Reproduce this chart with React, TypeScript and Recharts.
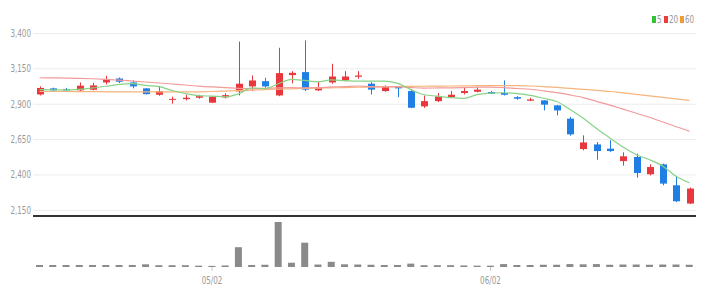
import { ComposedChart, BarChart, Bar, Line, XAxis, YAxis, CartesianGrid, Legend, ReferenceLine } from 'recharts'

// trading days, 04/14 .. 06/23
const dates = [
  '04/14', '04/15', '04/16', '04/17', '04/18', '04/21', '04/22', '04/23', '04/24', '04/25',
  '04/28', '04/29', '04/30', '05/02', '05/05', '05/06', '05/07', '05/08', '05/09', '05/12',
  '05/13', '05/14', '05/15', '05/16', '05/19', '05/20', '05/21', '05/22', '05/23', '05/26',
  '05/27', '05/28', '05/29', '05/30', '06/02', '06/03', '06/04', '06/05', '06/06', '06/09',
  '06/10', '06/11', '06/12', '06/13', '06/16', '06/17', '06/18', '06/19', '06/20', '06/23',
]

const opens = [
  2969, 3012, 3005, 2998, 3002, 3054, 3082, 3054, 3012, 2967,
  2934, 2936, 2946, 2911, 2948, 2990, 3026, 3063, 2962, 3106,
  3127, 2998, 3054, 3068, 3094, 3045, 2993, 3026, 2993, 2885,
  2922, 2950, 2979, 2988, 2986, 2979, 2950, 2925, 2927, 2892,
  2798, 2583, 2616, 2586, 2498, 2527, 2405, 2475, 2327, 2198,
]
const highs = [
  3026, 3017, 3015, 3054, 3050, 3101, 3089, 3068, 3015, 3026,
  2953, 2967, 2967, 2955, 2977, 3343, 3103, 3087, 3299, 3134,
  3351, 3063, 3186, 3134, 3134, 3056, 3033, 3028, 3005, 2962,
  2979, 2993, 3021, 3021, 2993, 3068, 2957, 2946, 2929, 2895,
  2810, 2680, 2633, 2645, 2560, 2551, 2475, 2480, 2390, 2311,
]
const lows = [
  2962, 2995, 2990, 2993, 2998, 3040, 3050, 3012, 2969, 2960,
  2904, 2927, 2939, 2908, 2941, 2962, 2993, 3017, 2957, 3047,
  2993, 2993, 3045, 3061, 3080, 2969, 2988, 2950, 2872, 2874,
  2915, 2946, 2969, 2984, 2972, 2962, 2932, 2922, 2856, 2821,
  2677, 2574, 2508, 2562, 2466, 2381, 2397, 2327, 2209, 2195,
]
const closes = [
  3015, 2998, 3000, 3031, 3033, 3075, 3059, 3026, 2971, 2993,
  2938, 2946, 2957, 2953, 2964, 3045, 3068, 3026, 3120, 3122,
  3003, 3017, 3096, 3096, 3103, 3003, 3021, 3012, 2875, 2922,
  2955, 2967, 2993, 3003, 2974, 2967, 2939, 2934, 2897, 2856,
  2687, 2630, 2569, 2569, 2532, 2414, 2456, 2339, 2214, 2304,
]
const volumes = [
  45, 45, 45, 45, 45, 45, 45, 45, 60, 40,
  40, 40, 30, 25, 35, 440, 45, 50, 1000, 95,
  540, 55, 115, 60, 55, 50, 45, 45, 75, 40,
  40, 40, 35, 30, 30, 65, 45, 45, 50, 50,
  65, 60, 65, 50, 55, 55, 50, 55, 55, 50,
]

// moving averages as drawn
const ma5 = [
  3003, 3002, 3000, 3005, 3015, 3027, 3040, 3045, 3033, 3025,
  2997, 2975, 2961, 2957, 2952, 2973, 3015, 3011, 3045, 3076,
  3068, 3058, 3072, 3067, 3063, 3063, 3064, 3047, 3003, 2967,
  2957, 2946, 2942, 2968, 2978, 2981, 2975, 2963, 2942, 2919,
  2863, 2801, 2728, 2662, 2597, 2543, 2508, 2462, 2391, 2345,
]
const ma20 = [
  3087, 3086, 3085, 3083, 3080, 3076, 3071, 3064, 3057, 3050,
  3043, 3036, 3028, 3022, 3017, 3012, 3010, 3012, 3015, 3017,
  3016, 3017, 3022, 3025, 3029, 3025, 3023, 3023, 3018, 3014,
  3015, 3016, 3018, 3021, 3021, 3017, 3011, 3006, 2995, 2982,
  2966, 2947, 2920, 2894, 2865, 2836, 2808, 2774, 2741, 2710,
]
const ma60 = [
  2990, 2990, 2990, 2989, 2989, 2988, 2988, 2988, 2987, 2987,
  2987, 2987, 2988, 2990, 2993, 2996, 3000, 3003, 3006, 3009,
  3012, 3014, 3016, 3018, 3020, 3022, 3024, 3025, 3026, 3027,
  3028, 3029, 3030, 3031, 3032, 3032, 3031, 3029, 3025, 3019,
  3012, 3005, 2998, 2990, 2980, 2970, 2959, 2949, 2938, 2927,
]

const priceTicks = [2150, 2400, 2650, 2900, 3150, 3400]
const priceDomain = [2110, 3460]
const dateTicks = ['05/02', '06/02']

const RED = '#e8383d'
const BLUE = '#1f7fe5'
const legendItems = [
  { label: '5', color: '#34c234' },
  { label: '20', color: '#ee3b3b' },
  { label: '60', color: '#f29a38' },
]

const FONT = "'DejaVu Sans', sans-serif"

const data = dates.map((date, i) => ({
  date,
  open: opens[i],
  high: highs[i],
  low: lows[i],
  close: closes[i],
  volume: volumes[i],
  ma5: ma5[i],
  ma20: ma20[i],
  ma60: ma60[i],
}))

const Candle = (props: any) => {
  const { x, y, width, height, payload } = props
  const { open, close, high, low } = payload
  const color = close >= open ? RED : BLUE
  const cx = Math.round(x + width / 2) + 0.5
  const ratio = high === low ? 0 : height / (high - low)
  const top = y + (high - Math.max(open, close)) * ratio
  const bodyH = Math.max(1, Math.abs(close - open) * ratio)
  return (
    <g>
      <line x1={cx} x2={cx} y1={y} y2={y + height} stroke={color} strokeWidth={1} />
      <rect x={cx - 3.5} y={top} width={7} height={bodyH} fill={color} />
    </g>
  )
}

// narrow gray labels like the original
const PriceTick = (props: any) => {
  const { x, y, payload } = props
  return (
    <g transform={`translate(${x},${y})`}>
      <text transform="scale(0.72,1)" textAnchor="end" dy="0.35em" fill="#999" fontSize={10} fontFamily={FONT}>
        {Number(payload.value).toLocaleString('en-US')}
      </text>
    </g>
  )
}

const DateTick = (props: any) => {
  const { x, y, payload } = props
  return (
    <g transform={`translate(${x},${y})`}>
      <text transform="scale(0.72,1)" textAnchor="middle" dy="0.71em" fill="#999" fontSize={10} fontFamily={FONT}>
        {payload.value}
      </text>
    </g>
  )
}

const MaLegend = () => (
  <div style={{ display: 'flex', alignItems: 'center', gap: 2, fontFamily: FONT, fontSize: 10, color: '#999' }}>
    {legendItems.map((it) => (
      <span key={it.label} style={{ display: 'flex', alignItems: 'center', gap: 1 }}>
        <span style={{ width: 4, height: 7, background: it.color, display: 'inline-block' }} />
        <span style={{ display: 'inline-block', transform: 'scaleX(0.72)', transformOrigin: 'left center', width: it.label.length * 4.8 }}>
          {it.label}
        </span>
      </span>
    ))}
  </div>
)

export default function App() {
  return (
    <div style={{ position: 'absolute', left: 0, top: 0, width: 709, height: 300, background: '#fff' }}>
      <div style={{ position: 'absolute', left: 0, top: 0 }}>
        <ComposedChart width={709} height={218} data={data} margin={{ top: 25, right: 13, bottom: 2, left: 0 }}>
          <CartesianGrid stroke="#ececec" syncWithTicks />
          <XAxis
            dataKey="date"
            ticks={dateTicks}
            interval={0}
            tick={false}
            tickLine={false}
            height={0}
            axisLine={false}
          />
          <YAxis
            type="number"
            domain={priceDomain}
            ticks={priceTicks}
            interval={0}
            width={33}
            tickSize={0}
            tickMargin={2}
            axisLine={false}
            tickLine={false}
            tick={<PriceTick />}
          />
          <Legend
            verticalAlign="middle"
            align="center"
            layout="horizontal"
            wrapperStyle={{ top: 14, right: 14, left: 'auto', width: 'auto' }}
            content={() => <MaLegend />}
          />
          <Line type="monotone" dataKey="ma60" stroke="#f5b57c" strokeWidth={1.2} dot={false} isAnimationActive={false} />
          <Line type="monotone" dataKey="ma20" stroke="#f39a9a" strokeWidth={1.2} dot={false} isAnimationActive={false} />
          <Line type="monotone" dataKey="ma5" stroke="#86d386" strokeWidth={1.2} dot={false} isAnimationActive={false} />
          <Bar dataKey={(d: any) => [d.low, d.high]} shape={Candle} isAnimationActive={false} />
          {/* dark divider between price and volume panels */}
          <ReferenceLine y={priceDomain[0]} stroke="#333" strokeWidth={2} />
        </ComposedChart>
      </div>
      <div style={{ position: 'absolute', left: 0, top: 217 }}>
        <BarChart width={709} height={83} data={data} margin={{ top: 5, right: 13, bottom: 0, left: 33 }}>
          <XAxis
            dataKey="date"
            ticks={dateTicks}
            interval={0}
            height={33}
            axisLine={false}
            tickSize={4}
            tickMargin={6}
            tickLine={{ stroke: '#ccc' }}
            tick={<DateTick />}
          />
          <YAxis hide domain={[0, 'dataMax']} />
          <Bar dataKey="volume" fill="#8a8a8a" barSize={7} isAnimationActive={false} />
        </BarChart>
      </div>
    </div>
  )
}
